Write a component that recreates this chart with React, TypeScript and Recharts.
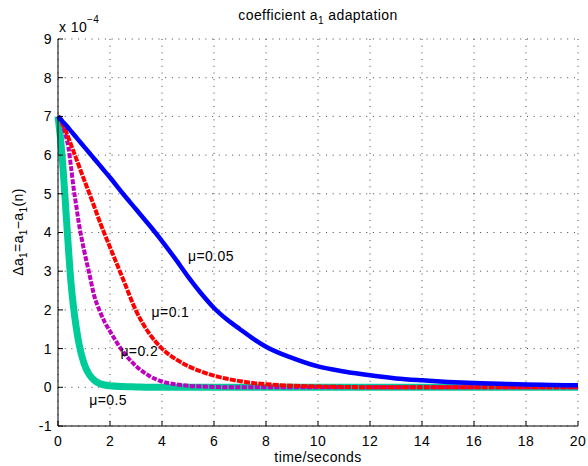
import React from "react";
import {
  LineChart,
  Line,
  XAxis,
  YAxis,
  CartesianGrid,
  ReferenceDot,
} from "recharts";

// time axis (seconds) shared by all four curves
const time = [
  0, 0.1, 0.2, 0.3, 0.4, 0.5, 0.6, 0.7, 0.8, 1.0, 1.2, 1.4, 1.6, 1.8, 2.0, 2.5, 3,
  3.5, 4, 4.5, 5, 5.5, 6, 6.5, 7, 7.5, 8, 9, 10, 11, 12, 13, 14, 15, 16, 17, 18, 19, 20,
];

// coefficient error, units of 1e-4
const mu005 = [
  7.0, 6.93, 6.85, 6.78, 6.7, 6.62, 6.54, 6.46, 6.38, 6.22, 6.06, 5.9, 5.74, 5.58,
  5.42, 5.0, 4.6, 4.2, 3.78, 3.33, 2.86, 2.43, 2.05, 1.75, 1.5, 1.26, 1.05, 0.76,
  0.54, 0.41, 0.31, 0.23, 0.18, 0.14, 0.11, 0.09, 0.07, 0.06, 0.05,
];
const mu01 = [
  7.0, 6.92, 6.78, 6.62, 6.45, 6.27, 6.09, 5.91, 5.73, 5.37, 5.02, 4.66, 4.29, 3.95,
  3.62, 2.8, 1.98, 1.4, 1.0, 0.74, 0.55, 0.41, 0.3, 0.22, 0.16, 0.11, 0.08, 0.04,
  0.02, 0.01, 0, 0, 0, 0, 0, 0, 0, 0, 0,
];
const mu02 = [
  7.0, 6.9, 6.75, 6.5, 6.2, 5.7, 5.15, 4.7, 4.25, 3.55, 2.95, 2.35, 1.98, 1.68, 1.45,
  0.92, 0.55, 0.3, 0.15, 0.08, 0.04, 0.02, 0.01, 0, 0, 0, 0, 0, 0, 0, 0, 0, 0, 0, 0,
  0, 0, 0, 0,
];
const mu05 = [
  7.0, 6.4, 5.6, 4.6, 3.6, 2.7, 2.05, 1.55, 1.15, 0.62, 0.33, 0.18, 0.1, 0.06, 0.04,
  0.02, 0.01, 0, 0, 0, 0, 0, 0, 0, 0, 0, 0, 0, 0, 0, 0, 0, 0, 0, 0, 0, 0, 0, 0,
];

const xTicks = [0, 2, 4, 6, 8, 10, 12, 14, 16, 18, 20];
const yTicks = [-1, 0, 1, 2, 3, 4, 5, 6, 7, 8, 9];

const notes = [
  { x: 5.0, y: 3.4, text: "μ=0.05" },
  { x: 3.6, y: 1.95, text: "μ=0.1" },
  { x: 2.4, y: 0.95, text: "μ=0.2" },
  { x: 1.2, y: -0.33, text: "μ=0.5" },
];

const rows = time.map((t, i) => ({
  t,
  a: mu005[i],
  b: mu01[i],
  c: mu02[i],
  d: mu05[i],
}));

const FONT = "'Liberation Sans', Arial, sans-serif";
const tickStyle = { fontSize: 14, fill: "#000", letterSpacing: 0.4 };

export default function App() {
  return (
    <div style={{ position: "relative", width: 588, height: 466, fontFamily: FONT, background: "#fff" }}>
      <style>{`body{margin:0}`}</style>
      <LineChart width={588} height={466} data={rows} margin={{ top: 39, right: 10, bottom: 0, left: 0 }}>
        <CartesianGrid stroke="#444" strokeDasharray="1 5.7" strokeWidth={1} />
        <XAxis
          dataKey="t"
          type="number"
          domain={[0, 20]}
          ticks={xTicks}
          height={40}
          tickSize={-5}
          tickMargin={15}
          stroke="#000"
          tick={tickStyle}
        />
        <XAxis
          xAxisId="top"
          orientation="top"
          dataKey="t"
          type="number"
          domain={[0, 20]}
          ticks={xTicks}
          height={0}
          tickSize={-5}
          stroke="#000"
          tick={false}
        />
        <YAxis
          type="number"
          domain={[-1, 9]}
          ticks={yTicks}
          width={58}
          tickSize={-5}
          tickMargin={11}
          stroke="#000"
          tick={tickStyle}
          allowDataOverflow
        />
        <YAxis
          yAxisId="right"
          orientation="right"
          type="number"
          domain={[-1, 9]}
          ticks={yTicks}
          width={0}
          tickSize={-5}
          stroke="#000"
          tick={false}
        />
        <Line type="monotone" dataKey="d" stroke="#00CC99" strokeWidth={7} dot={false} isAnimationActive={false} />
        <Line type="monotone" dataKey="c" stroke="#BF00BF" strokeWidth={4} strokeDasharray="5 1.5" dot={false} isAnimationActive={false} />
        <Line type="monotone" dataKey="b" stroke="#FF0000" strokeWidth={4} strokeDasharray="6 1.2" dot={false} isAnimationActive={false} />
        <Line type="monotone" dataKey="a" stroke="#0000FF" strokeWidth={4.5} dot={false} isAnimationActive={false} />
        {notes.map((n) => (
          <ReferenceDot
            key={n.text}
            x={n.x}
            y={n.y}
            r={0}
            fill="none"
            stroke="none"
            label={{ value: n.text, position: "right", offset: 0, fill: "#000", fontSize: 14, letterSpacing: 0.4 }}
          />
        ))}
      </LineChart>
      <svg
        width={588}
        height={466}
        style={{ position: "absolute", left: 0, top: 0, pointerEvents: "none", fontFamily: FONT }}
      >
        <text x={318} y={20} textAnchor="middle" fontSize={14} letterSpacing={0.4} fill="#000">
          coefficient a<tspan fontSize={10} dy={4}>1</tspan>
          <tspan dy={-4}> adaptation</tspan>
        </text>
        <text x={59} y={32} fontSize={14} letterSpacing={0.4} fill="#000">
          x 10<tspan fontSize={10} dy={-9}>−4</tspan>
        </text>
        <text x={318} y={462} textAnchor="middle" fontSize={14} letterSpacing={0.4} fill="#000">
          time/seconds
        </text>
        <text transform="translate(23,232) rotate(-90)" textAnchor="middle" fontSize={14} letterSpacing={0.4} fill="#000">
          Δa<tspan fontSize={10} dy={4}>1</tspan>
          <tspan dy={-4}>=a</tspan>
          <tspan fontSize={10} dy={4}>1</tspan>
          <tspan dy={-4}>−a</tspan>
          <tspan fontSize={10} dy={4}>1</tspan>
          <tspan dy={-4}>(n)</tspan>
        </text>
      </svg>
    </div>
  );
}
